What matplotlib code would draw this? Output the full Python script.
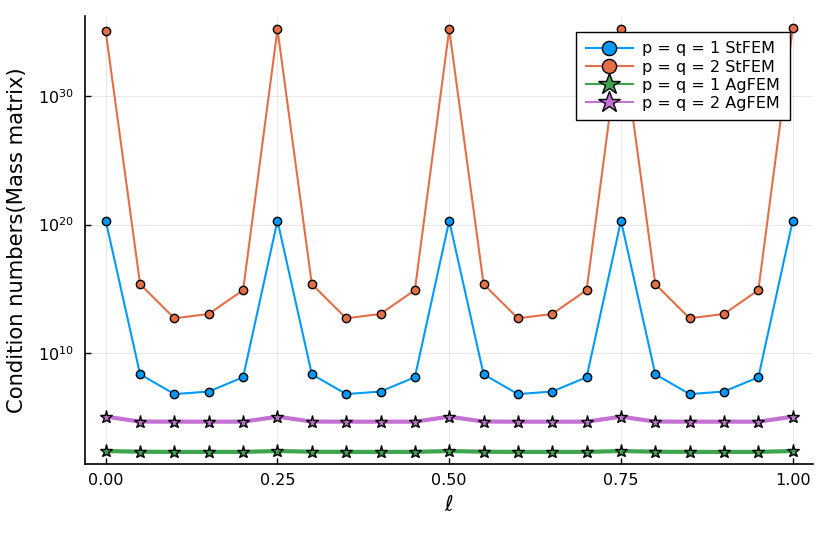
import numpy as np
import matplotlib
matplotlib.use("Agg")
import matplotlib.pyplot as plt
from matplotlib.ticker import FixedLocator, NullLocator

# mesh parameter l
ell = [0.00, 0.05, 0.10, 0.15, 0.20, 0.25, 0.30, 0.35, 0.40, 0.45, 0.50,
       0.55, 0.60, 0.65, 0.70, 0.75, 0.80, 0.85, 0.90, 0.95, 1.00]

stfem_p1 = [2.0e20, 2.2e8, 6.3e6, 1.0e7, 1.3e8, 2.0e20, 2.2e8, 6.3e6, 1.0e7, 1.3e8, 2.0e20,
            2.2e8, 6.3e6, 1.0e7, 1.3e8, 2.0e20, 2.2e8, 6.3e6, 1.0e7, 1.3e8, 2.0e20]
stfem_p2 = [1.1e35, 2.3e15, 5.0e12, 1.1e13, 7.9e14, 1.6e35, 2.3e15, 5.0e12, 1.1e13, 7.9e14, 1.6e35,
            2.3e15, 5.0e12, 1.1e13, 7.9e14, 1.6e35, 2.3e15, 5.0e12, 1.1e13, 7.9e14, 2.0e35]
agfem_p1 = [234, 205, 200, 200, 200, 234, 205, 200, 200, 200, 234,
            205, 200, 200, 200, 234, 205, 200, 200, 200, 234]
agfem_p2 = [1.1e5, 4.6e4, 4.5e4, 4.5e4, 4.5e4, 1.1e5, 4.6e4, 4.5e4, 4.5e4, 4.5e4, 1.1e5,
            4.6e4, 4.5e4, 4.5e4, 4.5e4, 1.1e5, 4.6e4, 4.5e4, 4.5e4, 4.5e4, 1.1e5]

labels = ["p = q = 1 StFEM", "p = q = 2 StFEM", "p = q = 1 AgFEM", "p = q = 2 AgFEM"]
colores = ["#009AFA", "#E36F47", "#3EA44E", "#C371D2"]

plt.rcParams['font.family'] = ['DejaVu Sans']

fig = plt.figure(figsize=(8.3, 5.54), dpi=100)
ax = fig.add_axes([0.1028, 0.1625, 0.8767, 0.8085])

ax.plot(ell, stfem_p1, color=colores[0], lw=1.5, marker='o', ms=6,
        mec='black', mew=1.0, label=labels[0])
ax.plot(ell, stfem_p2, color=colores[1], lw=1.5, marker='o', ms=6,
        mec='black', mew=1.0, label=labels[1])
ax.plot(ell, agfem_p1, color=colores[2], lw=3, marker='*', ms=9.5,
        mec='black', mew=1.0, label=labels[2])
ax.plot(ell, agfem_p2, color=colores[3], lw=3, marker='*', ms=9.5,
        mec='black', mew=1.0, label=labels[3])

ax.set_yscale('log')
ax.set_xlim(-0.0297, 1.0295)
ax.set_ylim(10 ** 1.36, 10 ** 36.23)
ax.yaxis.set_major_locator(FixedLocator([1e10, 1e20, 1e30]))
ax.yaxis.set_minor_locator(NullLocator())
ax.set_xticks([0.0, 0.25, 0.5, 0.75, 1.0])
ax.set_xticklabels(["0.00", "0.25", "0.50", "0.75", "1.00"])

ax.grid(True, color='black', alpha=0.1, lw=0.6)
ax.spines['top'].set_visible(False)
ax.spines['right'].set_visible(False)
ax.spines['left'].set_linewidth(1.2)
ax.spines['bottom'].set_linewidth(1.2)
ax.tick_params(direction='in', length=4, width=1, labelsize=11.5, colors='black')
ax.tick_params(axis='x', pad=6.5)
ax.tick_params(axis='y', pad=8)

ax.set_xlabel(r"$\ell$", fontsize=15, labelpad=5)
ax.set_ylabel("Condition numbers(Mass matrix)", fontsize=15.2, labelpad=8)

leg = ax.legend(loc='upper right', bbox_to_anchor=(0.968, 0.965), borderaxespad=0,
                fontsize=11.5, fancybox=False, edgecolor='black', framealpha=1,
                handlelength=3.0, markerscale=1.7, labelspacing=0.2,
                borderpad=0.6, handletextpad=0.55)
leg.get_frame().set_linewidth(1.0)
for linea in leg.get_lines():
    linea.set_linewidth(1.5)

fig.savefig("out.png", dpi=100)
